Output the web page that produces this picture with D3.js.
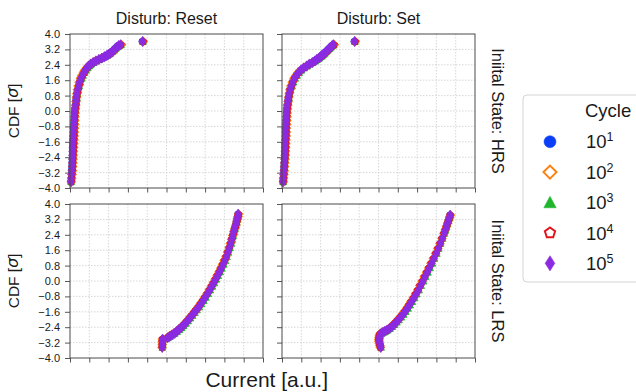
<!DOCTYPE html>
<html>
<head>
<meta charset="utf-8">
<script src="https://cdn.jsdelivr.net/npm/d3@7"></script>
<style>
  body { margin: 0; background: #fff; }
  svg text { font-family: "Liberation Sans", Arial, sans-serif; fill: #1a1a1a; }
</style>
</head>
<body>
<svg id="chart" width="636" height="392"></svg>
<script>
// ---- axis ticks ----
const xTicks = [0, 1, 2, 3, 4, 5, 6, 7, 8, 9, 10];
const yTicks = [-4.0, -3.2, -2.4, -1.6, -0.8, 0.0, 0.8, 1.6, 2.4, 3.2, 4.0];

// ---- facet labels ----
const colTitles = ["Disturb: Reset", "Disturb: Set"];
const rowTitles = ["Iniital State: HRS", "Iniital State: LRS"];
const cycleExponents = ["1", "2", "3", "4", "5"];

// ---- HRS, disturb Reset: CDF level [sigma] and current per cycle count ----
const sigmaHrsReset = [-3.68,-3.5,-3.3,-3.1,-2.9,-2.7,-2.5,-2.3,-2.1,-1.9,-1.7,-1.5,-1.3,-1.1,-0.9,-0.7,-0.5,-0.3,-0.1,0.1,0.3,0.5,0.7,0.9,1.1,1.3,1.5,1.7,1.85,2.0,2.12,2.24,2.34,2.44,2.52,2.6,2.68,2.75,2.82,2.88,2.94,3.0,3.08,3.16,3.24,3.32,3.4,3.44,3.61];
const hrsReset_1e1 = [0.04,0.06,0.07,0.08,0.09,0.10,0.11,0.12,0.125,0.13,0.14,0.15,0.16,0.17,0.18,0.19,0.20,0.21,0.22,0.24,0.27,0.29,0.31,0.34,0.38,0.43,0.48,0.56,0.63,0.71,0.78,0.87,0.96,1.07,1.19,1.33,1.49,1.64,1.77,1.89,1.98,2.07,2.17,2.26,2.33,2.41,2.51,2.6,3.74];
const hrsReset_1e2 = [0.07,0.09,0.11,0.13,0.14,0.15,0.16,0.17,0.18,0.19,0.2,0.21,0.22,0.23,0.24,0.25,0.25,0.26,0.27,0.28,0.3,0.31,0.33,0.35,0.38,0.42,0.47,0.54,0.61,0.69,0.76,0.85,0.95,1.06,1.19,1.33,1.49,1.65,1.8,1.93,2.03,2.12,2.22,2.31,2.39,2.47,2.57,2.67,3.8];
const hrsReset_1e3 = [0.06,0.07,0.09,0.1,0.12,0.13,0.14,0.15,0.16,0.17,0.18,0.19,0.2,0.2,0.21,0.22,0.23,0.24,0.25,0.27,0.3,0.33,0.36,0.39,0.43,0.48,0.54,0.61,0.68,0.76,0.83,0.92,1.0,1.11,1.23,1.37,1.52,1.67,1.8,1.92,2.01,2.1,2.2,2.29,2.36,2.44,2.54,2.64,3.78];
const hrsReset_1e4 = [0.07,0.08,0.1,0.12,0.13,0.14,0.15,0.16,0.17,0.18,0.19,0.2,0.21,0.22,0.22,0.23,0.24,0.25,0.26,0.28,0.31,0.33,0.35,0.38,0.42,0.47,0.52,0.59,0.66,0.74,0.81,0.9,0.99,1.1,1.22,1.36,1.51,1.66,1.79,1.91,2.0,2.09,2.19,2.28,2.36,2.44,2.54,2.64,3.79];
const hrsReset_1e5 = [0.05,0.06,0.08,0.09,0.10,0.11,0.12,0.125,0.13,0.14,0.15,0.16,0.17,0.18,0.19,0.20,0.21,0.22,0.23,0.25,0.28,0.30,0.32,0.35,0.39,0.44,0.49,0.57,0.64,0.72,0.78,0.88,0.97,1.08,1.2,1.34,1.5,1.65,1.78,1.9,1.99,2.08,2.18,2.27,2.34,2.42,2.52,2.62,3.76];

// ---- HRS, disturb Set ----
const sigmaHrsSet = [-3.68,-3.5,-3.3,-3.1,-2.9,-2.7,-2.5,-2.3,-2.1,-1.9,-1.7,-1.5,-1.3,-1.1,-0.9,-0.7,-0.5,-0.3,-0.1,0.1,0.3,0.5,0.7,0.9,1.1,1.3,1.5,1.7,1.85,2.0,2.12,2.24,2.34,2.44,2.52,2.6,2.68,2.75,2.82,2.88,2.94,3.0,3.08,3.16,3.24,3.32,3.4,3.44,3.61];
const hrsSet_1e1 = [0.04,0.055,0.07,0.085,0.095,0.105,0.12,0.13,0.14,0.15,0.155,0.165,0.175,0.18,0.185,0.195,0.205,0.215,0.23,0.24,0.26,0.29,0.32,0.36,0.4,0.47,0.54,0.63,0.73,0.84,0.96,1.11,1.27,1.41,1.56,1.69,1.79,1.91,1.99,2.05,2.12,2.19,2.27,2.35,2.43,2.51,2.59,2.65,3.74];
const hrsSet_1e2 = [0.07,0.08,0.1,0.12,0.13,0.14,0.16,0.17,0.18,0.19,0.2,0.21,0.22,0.23,0.23,0.24,0.25,0.26,0.27,0.28,0.3,0.32,0.34,0.37,0.41,0.46,0.53,0.62,0.72,0.83,0.96,1.11,1.27,1.42,1.58,1.72,1.83,1.96,2.04,2.1,2.17,2.24,2.32,2.4,2.48,2.56,2.65,2.71,3.8];
const hrsSet_1e3 = [0.06,0.07,0.09,0.11,0.12,0.13,0.15,0.16,0.17,0.18,0.18,0.19,0.2,0.21,0.21,0.22,0.23,0.24,0.25,0.27,0.29,0.33,0.36,0.4,0.45,0.52,0.59,0.68,0.78,0.89,1.01,1.15,1.31,1.45,1.59,1.72,1.82,1.94,2.02,2.08,2.15,2.22,2.3,2.38,2.46,2.54,2.62,2.68,3.78];
const hrsSet_1e4 = [0.07,0.08,0.1,0.11,0.13,0.14,0.15,0.17,0.18,0.19,0.19,0.2,0.21,0.22,0.22,0.23,0.24,0.25,0.26,0.28,0.3,0.33,0.35,0.39,0.43,0.5,0.57,0.66,0.76,0.87,0.99,1.14,1.3,1.44,1.59,1.72,1.82,1.94,2.02,2.08,2.15,2.22,2.3,2.38,2.46,2.54,2.62,2.69,3.79];
const hrsSet_1e5 = [0.05,0.06,0.075,0.09,0.10,0.11,0.125,0.14,0.145,0.155,0.16,0.17,0.18,0.185,0.19,0.20,0.21,0.22,0.235,0.25,0.27,0.30,0.33,0.37,0.41,0.48,0.55,0.64,0.74,0.85,0.97,1.12,1.28,1.42,1.57,1.7,1.8,1.92,2.0,2.06,2.13,2.2,2.28,2.36,2.44,2.52,2.6,2.66,3.76];

// ---- LRS, disturb Reset ----
const sigmaLrsReset = [-3.45,-3.3,-3.15,-3.02,-2.95,-2.88,-2.8,-2.72,-2.63,-2.53,-2.43,-2.33,-2.2,-2.07,-1.93,-1.79,-1.64,-1.5,-1.35,-1.19,-1.02,-0.85,-0.66,-0.47,-0.28,-0.1,0.09,0.28,0.47,0.66,0.86,1.06,1.26,1.49,1.72,1.95,2.16,2.36,2.56,2.73,2.9,3.07,3.22,3.35,3.47];
const lrsReset_1e1 = [4.77,4.78,4.78,4.79,5.05,5.15,5.27,5.39,5.51,5.63,5.74,5.85,5.97,6.08,6.2,6.31,6.43,6.54,6.66,6.77,6.89,7.0,7.12,7.23,7.34,7.44,7.54,7.64,7.74,7.83,7.92,8.01,8.09,8.17,8.25,8.32,8.37,8.42,8.47,8.52,8.57,8.61,8.65,8.68,8.7];
const lrsReset_1e2 = [4.77,4.78,4.78,4.79,5.03,5.13,5.25,5.37,5.49,5.61,5.72,5.83,5.95,6.06,6.18,6.29,6.41,6.52,6.64,6.75,6.87,6.98,7.1,7.21,7.32,7.42,7.52,7.62,7.72,7.81,7.9,7.99,8.08,8.16,8.24,8.31,8.37,8.43,8.49,8.54,8.6,8.64,8.68,8.71,8.73];
const lrsReset_1e3 = [4.79,4.8,4.8,4.81,5.08,5.18,5.31,5.43,5.55,5.67,5.78,5.89,6.01,6.12,6.24,6.35,6.47,6.58,6.7,6.81,6.93,7.04,7.16,7.27,7.38,7.48,7.58,7.68,7.78,7.87,7.96,8.05,8.13,8.21,8.29,8.36,8.41,8.46,8.51,8.55,8.6,8.64,8.67,8.7,8.72];
const lrsReset_1e4 = [4.77,4.78,4.78,4.79,5.04,5.14,5.26,5.38,5.5,5.62,5.73,5.84,5.96,6.07,6.19,6.3,6.42,6.53,6.65,6.76,6.88,6.99,7.11,7.22,7.33,7.43,7.53,7.63,7.73,7.82,7.91,8.0,8.09,8.17,8.25,8.32,8.38,8.44,8.5,8.55,8.6,8.64,8.68,8.71,8.73];
const lrsReset_1e5 = [4.78,4.79,4.79,4.80,5.06,5.16,5.28,5.4,5.52,5.64,5.75,5.86,5.98,6.09,6.21,6.32,6.44,6.55,6.67,6.78,6.9,7.01,7.13,7.24,7.35,7.45,7.55,7.65,7.75,7.84,7.93,8.02,8.1,8.18,8.26,8.33,8.38,8.43,8.48,8.53,8.58,8.62,8.66,8.69,8.71];

// ---- LRS, disturb Set ----
const sigmaLrsSet = [-3.45,-3.35,-3.25,-3.15,-3.05,-2.95,-2.85,-2.75,-2.68,-2.62,-2.55,-2.47,-2.37,-2.26,-2.14,-2.02,-1.88,-1.74,-1.59,-1.42,-1.25,-1.07,-0.88,-0.68,-0.47,-0.24,-0.01,0.22,0.45,0.68,0.92,1.17,1.43,1.69,1.95,2.21,2.47,2.65,2.82,2.99,3.14,3.29,3.42];
const lrsSet_1e1 = [5.11,5.09,5.06,5.04,5.03,5.04,5.06,5.09,5.19,5.31,5.44,5.56,5.68,5.8,5.91,6.02,6.14,6.26,6.37,6.49,6.6,6.71,6.83,6.94,7.06,7.17,7.29,7.4,7.52,7.63,7.75,7.86,7.98,8.09,8.19,8.29,8.39,8.45,8.51,8.56,8.61,8.66,8.7];
const lrsSet_1e2 = [5.09,5.07,5.04,5.02,5.01,5.02,5.04,5.07,5.16,5.28,5.41,5.53,5.65,5.77,5.88,5.99,6.11,6.23,6.34,6.46,6.57,6.68,6.8,6.91,7.03,7.14,7.26,7.37,7.49,7.6,7.72,7.84,7.96,8.07,8.18,8.29,8.39,8.46,8.52,8.58,8.64,8.69,8.73];
const lrsSet_1e3 = [5.13,5.11,5.09,5.07,5.06,5.07,5.09,5.12,5.23,5.35,5.48,5.6,5.72,5.84,5.95,6.06,6.18,6.3,6.41,6.53,6.64,6.75,6.87,6.98,7.1,7.21,7.33,7.44,7.56,7.67,7.79,7.9,8.02,8.12,8.22,8.32,8.41,8.47,8.53,8.58,8.63,8.67,8.71];
const lrsSet_1e4 = [5.1,5.08,5.05,5.03,5.02,5.03,5.05,5.08,5.17,5.29,5.42,5.54,5.66,5.78,5.89,6.0,6.12,6.24,6.35,6.47,6.58,6.69,6.81,6.92,7.04,7.15,7.27,7.38,7.5,7.61,7.73,7.85,7.97,8.08,8.19,8.29,8.39,8.46,8.52,8.58,8.63,8.68,8.72];
const lrsSet_1e5 = [5.12,5.1,5.07,5.05,5.04,5.05,5.07,5.1,5.2,5.32,5.45,5.57,5.69,5.81,5.92,6.03,6.15,6.27,6.38,6.5,6.61,6.72,6.84,6.95,7.07,7.18,7.3,7.41,7.53,7.64,7.76,7.87,7.99,8.1,8.2,8.3,8.4,8.46,8.52,8.57,8.62,8.67,8.71];

// ---- facet layout ----
const panels = [
  { col: 0, row: 0, sigma: sigmaHrsReset, series: [hrsReset_1e1, hrsReset_1e2, hrsReset_1e3, hrsReset_1e4, hrsReset_1e5] },
  { col: 1, row: 0, sigma: sigmaHrsSet,   series: [hrsSet_1e1, hrsSet_1e2, hrsSet_1e3, hrsSet_1e4, hrsSet_1e5] },
  { col: 0, row: 1, sigma: sigmaLrsReset, series: [lrsReset_1e1, lrsReset_1e2, lrsReset_1e3, lrsReset_1e4, lrsReset_1e5] },
  { col: 1, row: 1, sigma: sigmaLrsSet,   series: [lrsSet_1e1, lrsSet_1e2, lrsSet_1e3, lrsSet_1e4, lrsSet_1e5] }
];

const colX = [70, 282], rowY = [34, 204];
const pw = 193, ph = 154;

// marker style per cycle count (s: plot half-size, ls: legend half-size)
const styles = [
  { kind: "circle",   color: "#0b3ef7", fill: true,  s: 3.3, ls: 6.0 },
  { kind: "diamond",  color: "#ff7f0e", fill: false, s: 4.0, ls: 6.5 },
  { kind: "triangle", color: "#1fb52d", fill: true,  s: 3.4, ls: 6.2 },
  { kind: "pentagon", color: "#e4141e", fill: false, s: 3.4, ls: 5.4 },
  { kind: "thin",     color: "#8a2be2", fill: true,  s: 5.1, ls: 7.6 }
];

function markerPath(kind, s) {
  switch (kind) {
    case "circle":
      return d3.symbol(d3.symbolCircle, Math.PI * s * s)();
    case "diamond":
      return `M0,${-s}L${s},0L0,${s}L${-s},0Z`;
    case "triangle":
      return `M0,${-s}L${s},${s * 0.85}L${-s},${s * 0.85}Z`;
    case "pentagon": {
      const p = d3.path();
      for (let k = 0; k < 5; k++) {
        const a = -Math.PI / 2 + k * 2 * Math.PI / 5;
        const px = s * Math.cos(a), py = s * Math.sin(a);
        if (k === 0) p.moveTo(px, py); else p.lineTo(px, py);
      }
      p.closePath();
      return p.toString();
    }
    case "thin":
      return `M0,${-s}L${s * 0.64},0L0,${s}L${-s * 0.64},0Z`;
  }
}

function applyStyle(sel, st, legend) {
  if (st.fill) {
    sel.attr("fill", st.color).attr("stroke", st.color).attr("stroke-width", legend ? 0.5 : 0.8);
  } else {
    sel.attr("fill", "none").attr("stroke", st.color).attr("stroke-width", legend ? 2 : 1.3);
  }
}

const svg = d3.select("#chart");
const fmt = d3.format(".1f");

panels.forEach(p => {
  const x0 = colX[p.col], y0 = rowY[p.row];
  const x = d3.scaleLinear().domain([0, 10]).range([x0, x0 + pw]);
  const y = d3.scaleLinear().domain([-4, 4]).range([y0 + ph, y0]);
  const g = svg.append("g");

  // background + grid
  g.append("rect").attr("x", x0).attr("y", y0).attr("width", pw).attr("height", ph).attr("fill", "#fff");
  g.append("g").selectAll("line").data(xTicks.slice(1, -1)).join("line")
    .attr("x1", d => x(d)).attr("x2", d => x(d)).attr("y1", y0).attr("y2", y0 + ph)
    .attr("stroke", "#cdcdcd").attr("stroke-width", 0.8).attr("stroke-dasharray", "1.5,1.5");
  g.append("g").selectAll("line").data(yTicks.slice(1, -1)).join("line")
    .attr("y1", d => y(d)).attr("y2", d => y(d)).attr("x1", x0).attr("x2", x0 + pw)
    .attr("stroke", "#cdcdcd").attr("stroke-width", 0.8).attr("stroke-dasharray", "1.5,1.5");

  // axes (ticks only; labels on the left column)
  const ax = g.append("g").attr("transform", `translate(0,${y0 + ph})`)
    .call(d3.axisBottom(x).tickValues(xTicks).tickSize(4.5).tickFormat(""));
  const ay = g.append("g").attr("transform", `translate(${x0},0)`)
    .call(d3.axisLeft(y).tickValues(yTicks).tickSize(5).tickPadding(5)
      .tickFormat(p.col === 0 ? fmt : ""));
  [ax, ay].forEach(a => {
    a.select(".domain").remove();
    a.selectAll(".tick line").attr("stroke", "#444").attr("stroke-width", 0.9);
    a.selectAll(".tick text").attr("font-size", "11px").attr("fill", "#1a1a1a")
      .style("font-family", "'Liberation Sans', Arial, sans-serif");
  });

  // markers: each cycle series drawn in order, 10^5 on top
  p.series.forEach((vals, si) => {
    const st = styles[si];
    const n = Math.min(vals.length, p.sigma.length);
    const pts = d3.range(n).map(i => ({ c: vals[i], s: p.sigma[i] }));
    const sel = g.append("g").selectAll("path").data(pts).join("path")
      .attr("d", markerPath(st.kind, st.s))
      .attr("transform", d => `translate(${x(d.c)},${y(d.s)})`);
    applyStyle(sel, st, false);
  });

  // frame
  g.append("rect").attr("x", x0).attr("y", y0).attr("width", pw).attr("height", ph)
    .attr("fill", "none").attr("stroke", "#4a4a4a").attr("stroke-width", 1);
});

// column titles
colTitles.forEach((t, i) => {
  svg.append("text").attr("x", colX[i] + pw / 2).attr("y", 24)
    .attr("text-anchor", "middle").attr("font-size", "16px").text(t);
});

// row titles (right side)
rowTitles.forEach((t, i) => {
  const cy = rowY[i] + ph / 2;
  svg.append("text").attr("transform", `translate(498,${cy}) rotate(90)`)
    .attr("text-anchor", "middle").attr("dominant-baseline", "central")
    .attr("font-size", "16.5px").text(t);
});

// y labels
rowY.forEach(ry => {
  const t = svg.append("text").attr("transform", `translate(12.5,${ry + ph / 2}) rotate(-90)`)
    .attr("text-anchor", "middle").attr("dominant-baseline", "central").attr("font-size", "15.5px");
  t.append("tspan").text("CDF [");
  t.append("tspan").attr("font-style", "italic").style("font-family", "'DejaVu Sans', sans-serif").text("σ");
  t.append("tspan").text("]");
});

// x label
svg.append("text").attr("x", 266.7).attr("y", 387).attr("text-anchor", "middle")
  .attr("font-size", "21px").text("Current [a.u.]");

// legend
const lg = svg.append("g");
lg.append("rect").attr("x", 523).attr("y", 95).attr("width", 130).attr("height", 187)
  .attr("rx", 4).attr("fill", "#fff").attr("stroke", "#d4d4d4").attr("stroke-width", 1);
lg.append("text").attr("x", 585).attr("y", 117.3).attr("font-size", "18.5px").text("Cycle");
cycleExponents.forEach((e, i) => {
  const cy = 141.7 + i * 30.4;
  const st = styles[i];
  const m = lg.append("path").attr("d", markerPath(st.kind, st.ls))
    .attr("transform", `translate(550,${cy})`);
  applyStyle(m, st, true);
  const t = lg.append("text").attr("x", 586).attr("y", cy + 6.6).attr("font-size", "18.5px");
  t.append("tspan").text("10");
  t.append("tspan").attr("font-size", "12.5px").attr("dy", -7).text(e);
});
</script>
</body>
</html>
